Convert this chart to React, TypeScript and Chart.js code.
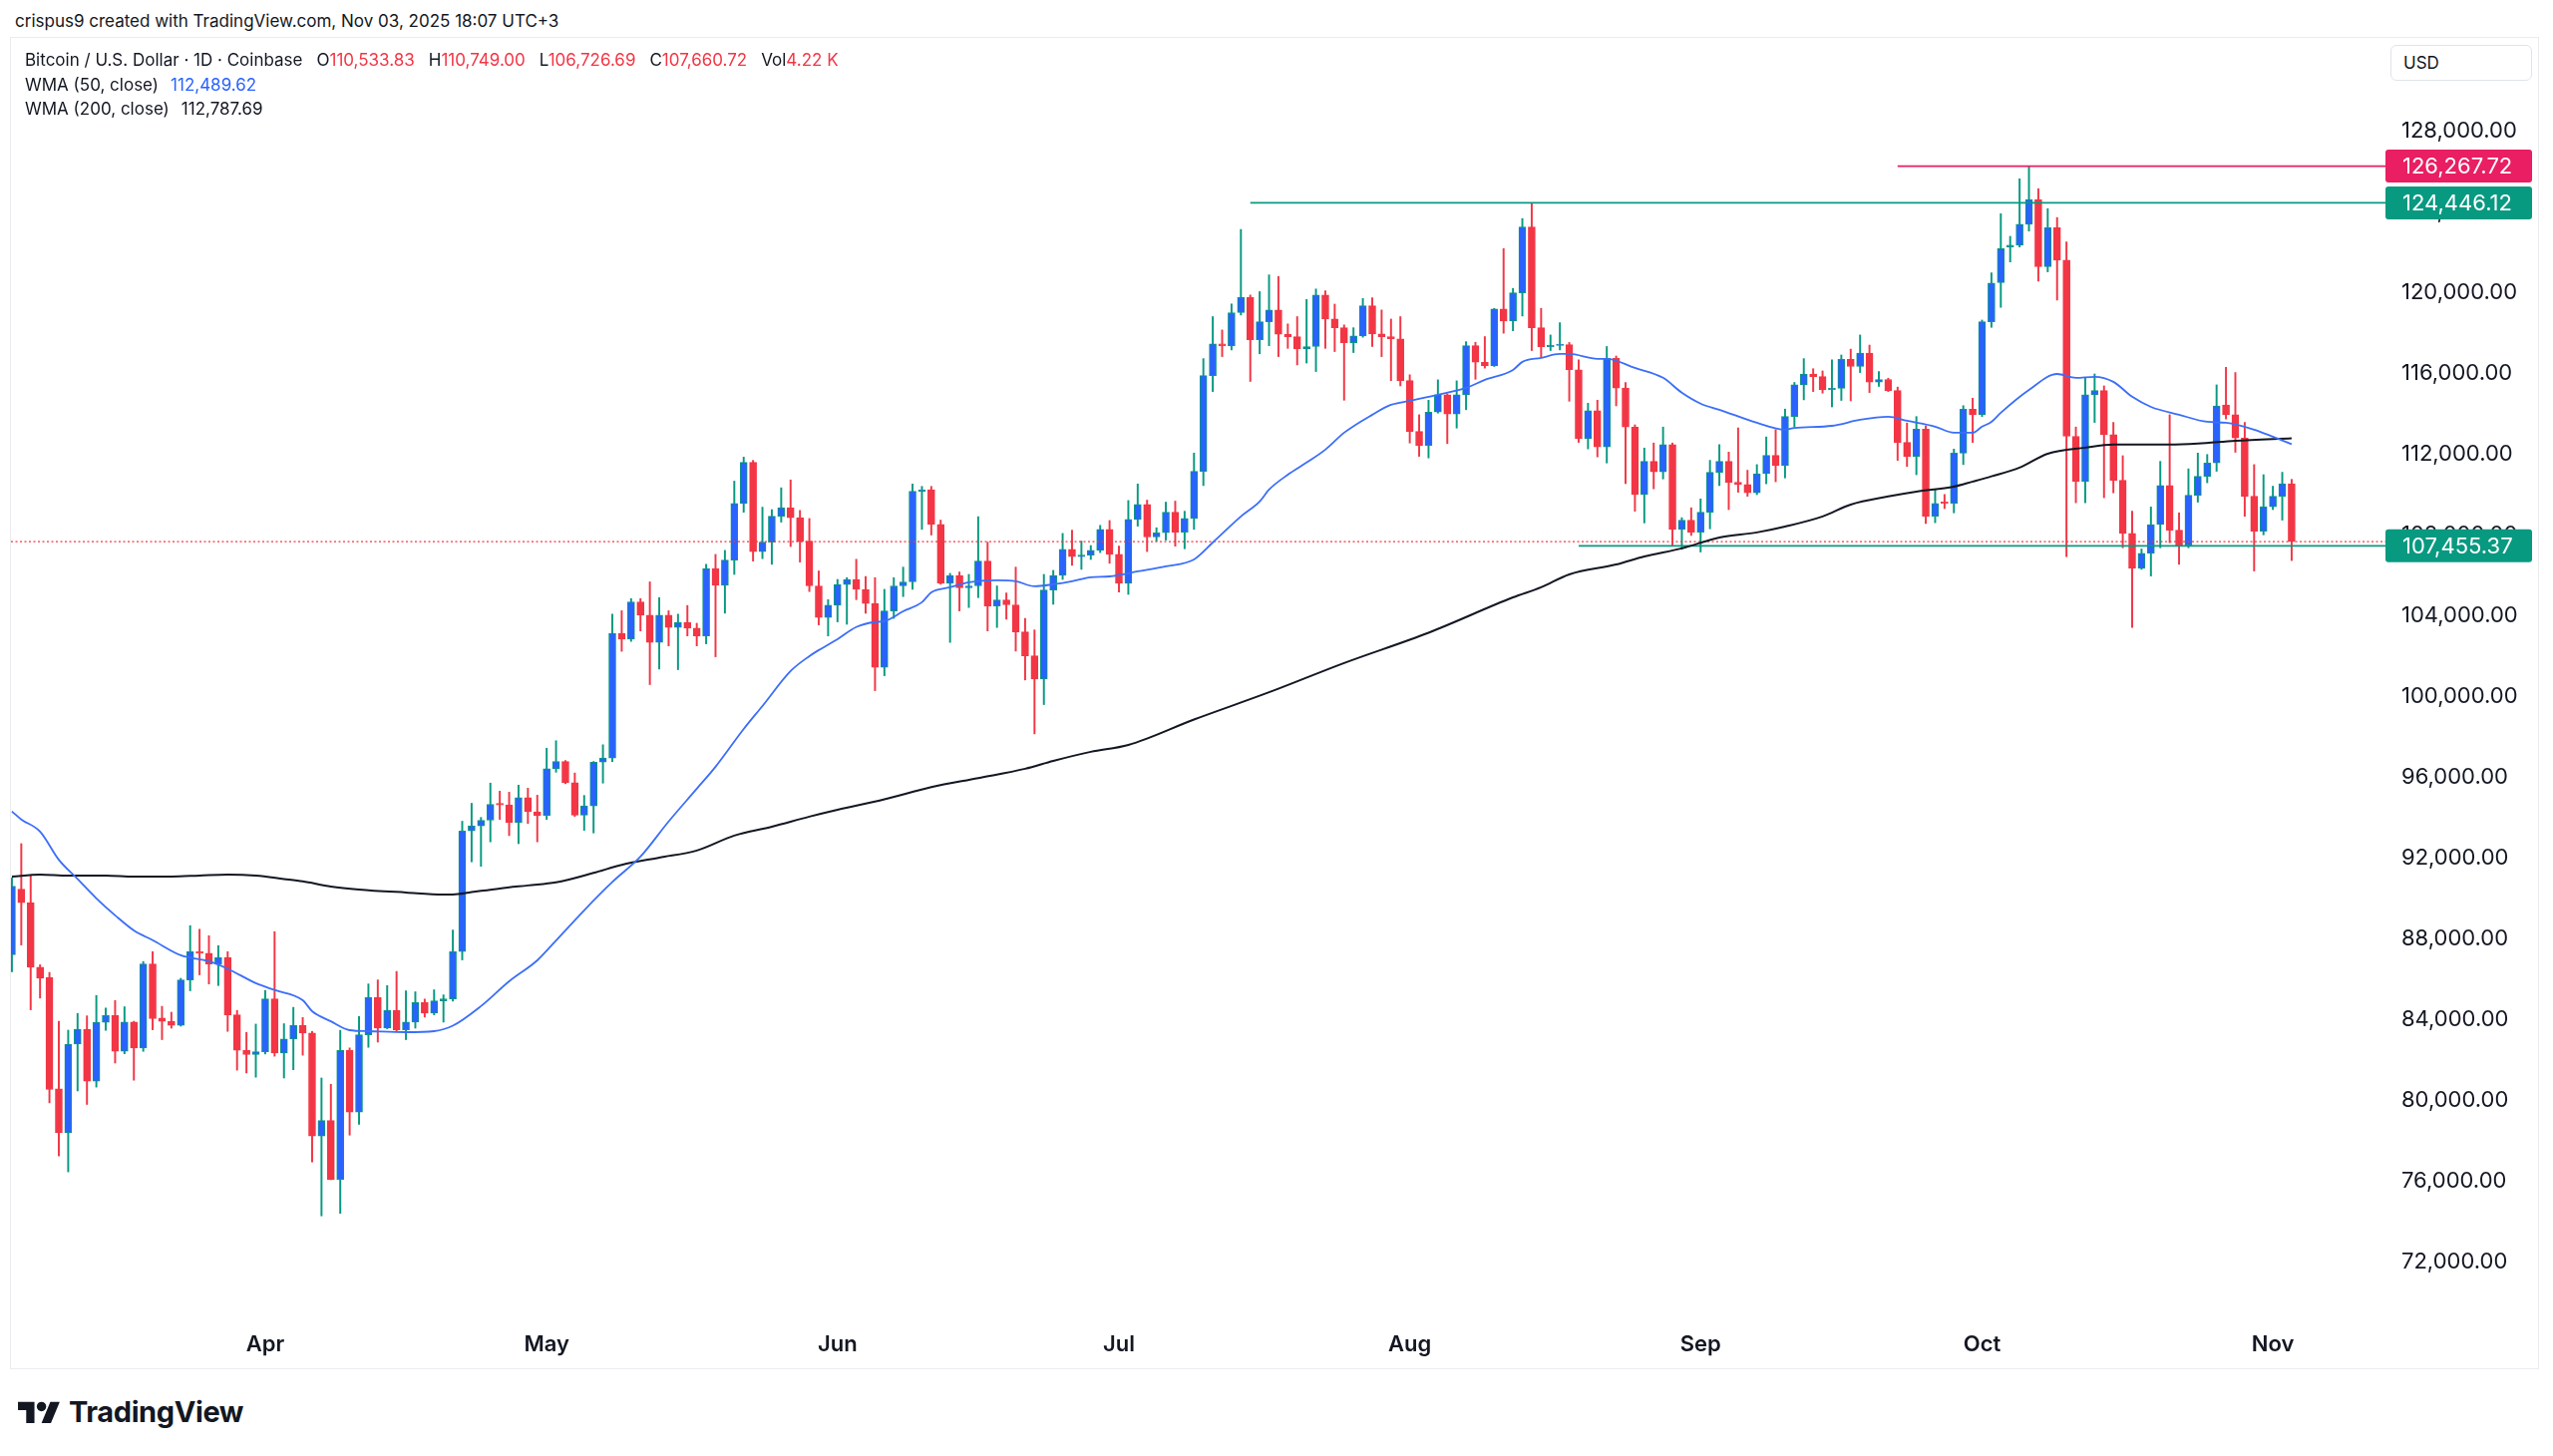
import React, { useEffect, useRef } from 'react';
import { Chart, registerables } from 'chart.js';

Chart.register(...registerables);

// ---------- data (daily candles, first candle = START_DATE) ----------
const START_DATE = '2025-03-05';

const open: number[] = [
  87200, 90450, 89780, 86580, 86070, 80550, 78370, 82770, 83510, 80930, 83850, 84190, 82410, 83860, 82580, 86740, 84060, 83900, 83700, 85950, 87350, 87270, 86740, 87060, 84220, 82460, 82250,
  82390, 85010, 82330, 83020, 83700, 83320, 78210, 78980, 76070, 82460, 79400, 83230, 85090, 83560, 84440, 83480, 83860, 84830, 84300, 84910, 85010, 87350, 93330, 93580, 93860, 94650, 94620, 93750, 94980, 94280,
  94100, 96410, 96770, 95720, 94110, 94570, 96740, 96940, 103120, 102830, 104680, 104020, 102670, 104020, 103410, 103660, 103380, 102990, 106330, 105500, 106750, 109550, 111590, 107170, 107640, 108920, 109340, 108850, 107690, 105470, 103900,
  104510, 105540, 105790, 105300, 104600, 101430, 104230, 105470, 105670, 110160, 110240, 108520, 105600, 105990, 105380, 105470, 106700, 104480, 104770, 104530, 103190, 102010, 100860, 105270, 105990, 107280, 106920, 107000, 107230, 108270,
  107030, 105600, 108760, 109500, 107890, 108100, 109120, 108130, 108810, 111150, 115890, 117460, 117360, 119010, 119770, 117660, 118560, 119140, 117940, 117820, 117210, 117330, 119880, 118690, 118260, 117520, 117850, 119350, 117950, 117820, 117710,
  115640, 113120, 112430, 114080, 114940, 113980, 114940, 117370, 116550, 116370, 119190, 118590, 119990, 123250, 118260, 117320, 117380, 117420, 116180, 112760, 114150, 112360, 116750, 115270, 113340, 109990, 111640, 111120, 112470, 108270, 108730,
  108130, 109120, 111100, 111640, 110600, 110500, 110080, 111030, 111940, 111440, 113860, 115430, 115970, 115840, 115180, 115260, 116700, 116340, 117000, 115570, 115700, 115150, 112580, 111890, 113240, 108920, 109620, 109560, 112050, 114230,
  113950, 118560, 120490, 122260, 122350, 123390, 124610, 121280, 123220, 121610, 112880, 110650, 114940, 115150, 112960, 110700, 108070, 106340, 107080, 108510, 110440, 108230, 107490, 109960, 110900, 111560, 114440, 113950, 112800, 109910, 108180,
  109390, 109910, 110533.83,
];

const high: number[] = [
  91000, 92700, 91100, 86700, 86320, 83900, 83460, 84290, 84170, 85180, 84550, 84930, 84620, 83900, 86860, 87350, 84640, 84350, 86030, 88640, 88460, 88140, 87650, 87350, 84440, 83350, 83760,
  85430, 88340, 83780, 84590, 84090, 83400, 81090, 80780, 83450, 82580, 84140, 85750, 85950, 85670, 86370, 85410, 85360, 85000, 85460, 85210, 88420, 93810, 94700, 94000, 95700, 95300, 95250, 95600, 95450, 95100,
  97430, 97800, 96820, 96200, 95090, 96770, 97600, 104070, 104240, 104840, 104840, 105670, 104890, 104240, 104070, 104500, 103620, 106540, 107030, 107230, 110660, 111850, 111690, 109370, 109250, 110330, 110720, 109210, 108810, 106210, 104790,
  105790, 105880, 106790, 105930, 105880, 105300, 105880, 106400, 110520, 110400, 110400, 108730, 106090, 106160, 106040, 108900, 107640, 105470, 105120, 106400, 103860, 103290, 106040, 106240, 108070, 108230, 107690, 107470, 108470, 108710,
  107440, 109700, 110520, 109720, 108350, 109620, 109670, 109170, 112050, 116730, 118810, 118150, 119440, 123130, 119880, 120050, 120880, 120800, 118450, 118810, 119660, 120180, 120090, 119430, 118400, 118260, 119710, 119740, 119140, 118690, 118810,
  115930, 113950, 114670, 115680, 114990, 115630, 117570, 117540, 117820, 119220, 122180, 120210, 123670, 124446.12, 119220, 117900, 118510, 117530, 116670, 114520, 114670, 117330, 116860, 115550, 113450, 112300, 112550, 113340, 112550, 108850, 109340,
  109780, 111690, 112470, 112100, 113300, 111200, 111480, 112850, 113210, 114230, 115550, 116730, 116230, 116120, 116670, 116910, 117200, 117900, 117400, 116090, 115760, 115320, 113540, 113860, 113400, 110240, 110000, 112250, 114400, 114770,
  118640, 120980, 123910, 122790, 125640, 126267.72, 125150, 124160, 123720, 122510, 113340, 115760, 115970, 115380, 113570, 111920, 109170, 107300, 109380, 111640, 113950, 109090, 111270, 112050, 111980, 115430, 116300, 116040, 113570, 111480, 110980,
  110410, 111100, 110749.0,
];

const low: number[] = [
  86350, 87680, 84470, 85050, 79860, 77230, 76440, 80450, 79780, 80640, 83450, 81830, 82290, 80980, 82410, 83480, 82990, 83560, 83660, 85410, 86200, 85750, 85670, 83400, 81480, 81340, 81130,
  82280, 82170, 81090, 81500, 82220, 76930, 74260, 76050, 74380, 78260, 78790, 82610, 82870, 83530, 83400, 82990, 83560, 84110, 84220, 83860, 84900, 86940, 91800, 91580, 92790, 93900, 93100, 92700, 93700, 92790,
  93900, 96240, 95670, 94050, 93360, 93230, 95700, 96770, 102230, 102720, 103240, 100580, 101350, 102500, 101320, 102990, 102500, 102600, 101960, 104120, 106040, 109120, 106700, 106820, 106540, 108630, 107420, 106650, 105190, 103540, 102990,
  103690, 103570, 104790, 104120, 100280, 101020, 103860, 104940, 105300, 108270, 107990, 105550, 102670, 104230, 104400, 104890, 103240, 103410, 103820, 102240, 100810, 98140, 99590, 104560, 105790, 106490, 106290, 106780, 107120, 106590,
  105170, 105050, 108430, 107170, 107690, 107740, 107440, 107310, 108270, 110440, 115100, 116830, 117160, 118890, 115600, 116970, 117370, 116830, 117240, 116420, 116510, 116090, 117240, 117080, 114670, 117030, 117790, 117330, 116830, 115640, 115380,
  112550, 111890, 111810, 114030, 112520, 113290, 114200, 115710, 116260, 116340, 117990, 118110, 118840, 117130, 116800, 117130, 117160, 114620, 112580, 112260, 111860, 111560, 114390, 110540, 109170, 108590, 110280, 110770, 107480, 107280, 107970,
  107150, 108300, 110440, 109250, 110110, 109910, 109990, 110530, 110630, 110820, 113340, 114690, 115100, 115020, 114340, 114660, 114640, 116040, 115050, 115350, 115100, 111690, 111390, 110980, 108560, 108600, 109300, 109090, 111480, 112580,
  113860, 118280, 119270, 121520, 122260, 123050, 120570, 121030, 119630, 106920, 109590, 109590, 113570, 109840, 110080, 107360, 103410, 106290, 105960, 107360, 107610, 106540, 107360, 109620, 110580, 111150, 113740, 112090, 108920, 106210, 108000,
  109250, 108730, 106726.69,
];

const close: number[] = [
  90600, 89780, 86580, 86030, 80520, 78370, 82770, 83510, 80930, 83850, 84190, 82410, 83860, 82580, 86740, 84030, 83900, 83700, 85950, 87350, 87270, 86740, 87060, 84220, 82460, 82250, 82390,
  85010, 82330, 83020, 83700, 83320, 78210, 78980, 76070, 82460, 79400, 83230, 85090, 83560, 84440, 83480, 83860, 84830, 84300, 84910, 85010, 87350, 93330, 93580, 93860, 94650, 94620, 93750, 94980, 94280, 94100,
  96410, 96770, 95720, 94110, 94570, 96740, 96940, 103120, 102830, 104680, 104020, 102670, 104020, 103410, 103660, 103380, 102990, 106330, 105500, 106750, 109550, 111590, 107170, 107640, 108920, 109340, 108850, 107690, 105470, 103900, 104510,
  105540, 105790, 105300, 104600, 101430, 104230, 105470, 105670, 110160, 110240, 108520, 105600, 105990, 105380, 105470, 106700, 104480, 104770, 104530, 103190, 102010, 100860, 105270, 105990, 107280, 106920, 107000, 107230, 108270, 107030,
  105600, 108760, 109500, 107890, 108100, 109120, 108130, 108810, 111150, 115890, 117460, 117360, 119010, 119770, 117660, 118560, 119140, 117940, 117820, 117210, 117330, 119880, 118690, 118260, 117520, 117850, 119350, 117950, 117820, 117710, 115640,
  113120, 112430, 114080, 114940, 113980, 114940, 117370, 116550, 116370, 119190, 118590, 119990, 123250, 118260, 117320, 117380, 117420, 116180, 112760, 114150, 112360, 116750, 115270, 113340, 109990, 111640, 111120, 112470, 108270, 108730, 108130,
  109120, 111100, 111640, 110600, 110500, 110080, 111030, 111940, 111440, 113860, 115430, 115970, 115840, 115180, 115260, 116700, 116340, 117000, 115570, 115700, 115150, 112580, 111890, 113240, 108920, 109550, 109560, 112050, 114230, 113950,
  118560, 120480, 122180, 122350, 123390, 124610, 121280, 123220, 121610, 112880, 110650, 114940, 115150, 112960, 110700, 108070, 106340, 107080, 108510, 110440, 108230, 107490, 109960, 110900, 111560, 114390, 113950, 112800, 109910, 108180, 109390,
  109910, 110530, 107660.72,
];

// WMA readings (day index from START_DATE -> value)
const wma50Day: number[] = [0, 1, 3, 5, 7, 9, 11, 13, 15, 18, 21, 23, 26, 28, 31, 32, 34, 36, 38, 42, 45, 47, 50, 53, 56, 58, 61, 64, 67, 70, 73, 75, 78, 80, 83, 85, 86, 88, 90, 92, 93, 95, 97, 98, 100, 102, 105, 107, 109, 111, 113, 115, 117, 120, 123, 126, 128, 131, 133, 134, 136, 138, 140, 142, 145, 147, 149, 152, 155, 157, 160, 161, 163, 165, 166, 169, 170, 173, 176, 178, 180, 182, 186, 189, 190, 194, 197, 200, 202, 205, 207, 209, 210, 211, 212, 215, 218, 220, 222, 224, 226, 228, 231, 234, 236, 239, 241, 243];
const wma50: number[] = [94300, 93900, 93300, 91900, 90950, 89990, 89150, 88400, 87920, 87170, 86870, 86500, 85790, 85450, 84940, 84400, 83900, 83460, 83410, 83360, 83410, 83680, 84650, 85880, 86920, 87900, 89400, 90800, 92060, 93800, 95420, 96510, 98380, 99520, 101250, 101990, 102290, 102830, 103430, 103680, 103720, 104210, 104660, 105150, 105400, 105650, 105750, 105700, 105450, 105550, 105700, 105900, 105940, 106190, 106440, 106780, 107620, 108910, 109650, 110240, 110980, 111580, 112220, 113060, 113950, 114440, 114640, 114940, 115280, 115680, 116170, 116570, 116770, 116960, 116960, 116720, 116720, 116270, 115780, 115040, 114500, 114200, 113550, 113210, 113300, 113400, 113700, 113850, 113650, 113360, 113060, 113060, 113360, 113600, 114050, 115180, 115970, 115780, 115830, 115580, 114840, 114340, 113950, 113600, 113550, 113210, 112860, 112489.62];

const wma200Day: number[] = [0, 3, 6, 10, 13, 17, 20, 23, 26, 29, 31, 34, 37, 42, 46, 47, 49, 52, 55, 58, 62, 65, 69, 73, 77, 81, 85, 88, 93, 98, 103, 108, 111, 115, 119, 126, 134, 142, 151, 160, 163, 166, 171, 174, 178, 182, 186, 189, 193, 196, 200, 203, 207, 209, 211, 214, 217, 221, 224, 230, 233, 237, 243];
const wma200: number[] = [91070, 91170, 91120, 91120, 91070, 91070, 91120, 91170, 91120, 90950, 90830, 90580, 90430, 90280, 90180, 90180, 90300, 90480, 90630, 90780, 91250, 91650, 92010, 92360, 93100, 93540, 94040, 94380, 94900, 95500, 95950, 96410, 96800, 97250, 97590, 98850, 100200, 101650, 103150, 104900, 105400, 106040, 106530, 106930, 107330, 107870, 108120, 108410, 108910, 109500, 109900, 110140, 110390, 110640, 110900, 111330, 112020, 112320, 112470, 112470, 112520, 112660, 112787.69];

// horizontal levels drawn on the chart
const levelValues: number[] = [126267.72, 124446.12, 107455.37];
const levelStartDates: string[] = ['2025-09-22', '2025-07-15', '2025-08-19'];

const monthLabels: string[] = ['Apr', 'May', 'Jun', 'Jul', 'Aug', 'Sep', 'Oct', 'Nov'];
const monthStartDates: string[] = ['2025-04-01', '2025-05-01', '2025-06-01', '2025-07-01', '2025-08-01', '2025-09-01', '2025-10-01', '2025-11-01'];

const priceTicks: number[] = [72000, 76000, 80000, 84000, 88000, 92000, 96000, 100000, 104000, 108000, 112000, 116000, 120000, 124000, 128000];

const volumeText = '4.22 K';

// ---------- styling ----------
const UP_FILL = '#2962FF';
const UP_LINE = '#089981';
const DOWN = '#F23645';
const LEVEL_RED = '#E91E63';
const LEVEL_GREEN = '#089981';
const TEXT = '#131722';
const WMA50_COLOR = '#3B6EF8';
const WMA200_COLOR = '#131722';
const FONT = 'Inter, "Noto Sans", Roboto, sans-serif';

const X_MIN = -0.1;
const X_MAX = 253.0;
const Y_MIN = 69280;
const Y_MAX = 132620;

const fmt2 = new Intl.NumberFormat('en-US', { minimumFractionDigits: 2, maximumFractionDigits: 2 });

const dayIndex = (iso: string) =>
  Math.round((Date.parse(iso + 'T00:00:00Z') - Date.parse(START_DATE + 'T00:00:00Z')) / 86400000);

const levelColors = [LEVEL_RED, LEVEL_GREEN, LEVEL_GREEN];

const priceBoxes = {
  id: 'priceBoxes',
  afterDraw(chart: any) {
    const { ctx, chartArea, scales } = chart;
    const y = scales.y;
    ctx.save();
    ctx.font = `22px ${FONT}`;
    ctx.textBaseline = 'middle';
    ctx.textAlign = 'left';
    levelValues.forEach((v, k) => {
      const py = y.getPixelForValue(v);
      const x0 = chartArea.right;
      const w = 147;
      const h = 33;
      ctx.fillStyle = levelColors[k];
      ctx.beginPath();
      ctx.roundRect(x0, py - h / 2, w, h, 3);
      ctx.fill();
      ctx.fillStyle = '#ffffff';
      ctx.fillText(fmt2.format(v), x0 + 17, py + 1);
    });
    ctx.restore();
  },
};

export default function App() {
  const ref = useRef<HTMLCanvasElement | null>(null);

  useEffect(() => {
    const canvas = ref.current;
    if (!canvas) return;
    const idx = open.map((_, i) => i);
    const isUp = idx.map((i) => close[i] >= open[i]);
    const monthIdx = monthStartDates.map(dayIndex);
    const last = close.length - 1;

    const lineBase = { pointRadius: 0, pointHoverRadius: 0, fill: false };

    const datasets: any[] = [
      {
        ...lineBase,
        type: 'line',
        data: wma50Day.map((d, i) => ({ x: d, y: wma50[i] })),
        borderColor: WMA50_COLOR,
        borderWidth: 1.8,
        cubicInterpolationMode: 'monotone',
        order: 0,
      },
      {
        ...lineBase,
        type: 'line',
        data: wma200Day.map((d, i) => ({ x: d, y: wma200[i] })),
        borderColor: WMA200_COLOR,
        borderWidth: 2,
        cubicInterpolationMode: 'monotone',
        order: 0,
      },
      ...levelValues.map((v, k) => ({
        ...lineBase,
        type: 'line',
        data: [
          { x: dayIndex(levelStartDates[k]), y: v },
          { x: X_MAX, y: v },
        ],
        borderColor: levelColors[k],
        borderWidth: 1.7,
        order: 1,
      })),
      {
        ...lineBase,
        type: 'line',
        data: [
          { x: X_MIN, y: close[last] },
          { x: X_MAX, y: close[last] },
        ],
        borderColor: DOWN,
        borderWidth: 1.2,
        borderDash: [2, 2.5],
        order: 1,
      },
      {
        type: 'bar',
        data: idx.map((i) => ({ x: i, y: [open[i], close[i]] })),
        backgroundColor: idx.map((i) => (isUp[i] ? UP_FILL : DOWN)),
        borderColor: idx.map((i) => (isUp[i] ? UP_LINE : DOWN)),
        borderWidth: 1,
        borderSkipped: false,
        barThickness: 7,
        minBarLength: 1.5,
        grouped: false,
        order: 2,
      },
      {
        type: 'bar',
        data: idx.map((i) => ({ x: i, y: [low[i], high[i]] })),
        backgroundColor: idx.map((i) => (isUp[i] ? UP_LINE : DOWN)),
        borderWidth: 0,
        barThickness: 1.3,
        grouped: false,
        order: 3,
      },
    ];

    const chart = new Chart(canvas, {
      type: 'bar',
      data: { datasets },
      options: {
        animation: false,
        responsive: false,
        devicePixelRatio: 1,
        events: [],
        layout: { padding: 0 },
        plugins: { legend: { display: false }, tooltip: { enabled: false } },
        scales: {
          x: {
            type: 'linear',
            min: X_MIN,
            max: X_MAX,
            offset: false,
            bounds: 'data',
            grid: { display: false, drawTicks: false },
            border: { display: false },
            ticks: {
              autoSkip: false,
              maxRotation: 0,
              padding: 15,
              color: TEXT,
              font: { family: FONT, size: 22, weight: '600' },
              callback: (v: any) => {
                const k = monthIdx.indexOf(Number(v));
                return k >= 0 ? monthLabels[k] : '';
              },
            },
            afterBuildTicks: (s: any) => {
              s.ticks = monthIdx.map((v) => ({ value: v }));
            },
            afterFit: (s: any) => {
              s.height = 52;
              s.paddingLeft = 0;
              s.paddingRight = 0;
            },
          },
          y: {
            type: 'linear',
            position: 'right',
            min: Y_MIN,
            max: Y_MAX,
            bounds: 'data',
            beginAtZero: false,
            grid: { display: false, drawTicks: false },
            border: { display: false },
            ticks: {
              autoSkip: false,
              padding: 16,
              color: TEXT,
              font: { family: FONT, size: 22 },
              callback: (v: any) => fmt2.format(Number(v)),
            },
            afterBuildTicks: (s: any) => {
              s.ticks = priceTicks.map((v) => ({ value: v }));
            },
            afterFit: (s: any) => {
              s.width = 153;
              s.paddingTop = 0;
              s.paddingBottom = 0;
            },
          },
        },
      } as any,
      plugins: [priceBoxes as any],
    });
    return () => chart.destroy();
  }, []);

  const last = close.length - 1;
  const txt: React.CSSProperties = {
    position: 'absolute',
    fontFamily: FONT,
    fontSize: 17,
    lineHeight: '20px',
    color: TEXT,
    whiteSpace: 'nowrap',
  };
  const gap = { marginLeft: 14 };
  const red = { color: DOWN };

  return (
    <div
      style={{
        position: 'absolute',
        left: 0,
        top: 0,
        width: 2560,
        height: 1460,
        background: '#ffffff',
        overflow: 'hidden',
      }}
    >
      <div style={{ ...txt, left: 15, top: 11 }}>
        crispus9 created with TradingView.com, Nov 03, 2025 18:07 UTC+3
      </div>

      <div
        style={{
          position: 'absolute',
          left: 10,
          top: 37,
          width: 2536,
          height: 1336,
          border: '1px solid #e9ebef',
          boxSizing: 'border-box',
        }}
      />
      <canvas
        ref={ref}
        width={2534}
        height={1334}
        style={{ position: 'absolute', left: 11, top: 38, width: 2534, height: 1334 }}
      />

      <div style={{ ...txt, left: 25, top: 50 }}>
        Bitcoin / U.S. Dollar · 1D · Coinbase
        <span style={gap}>O<span style={red}>{fmt2.format(open[last])}</span></span>
        <span style={gap}>H<span style={red}>{fmt2.format(high[last])}</span></span>
        <span style={gap}>L<span style={red}>{fmt2.format(low[last])}</span></span>
        <span style={gap}>C<span style={red}>{fmt2.format(close[last])}</span></span>
        <span style={gap}>Vol<span style={red}>{volumeText}</span></span>
      </div>
      <div style={{ ...txt, left: 25, top: 75 }}>
        WMA (50, close)
        <span style={{ marginLeft: 12, color: UP_FILL }}>{fmt2.format(wma50[wma50.length - 1])}</span>
      </div>
      <div style={{ ...txt, left: 25, top: 99 }}>
        WMA (200, close)
        <span style={{ marginLeft: 12 }}>{fmt2.format(wma200[wma200.length - 1])}</span>
      </div>

      <div
        style={{
          position: 'absolute',
          left: 2397,
          top: 45,
          width: 142,
          height: 36,
          border: '1px solid #e0e3eb',
          borderRadius: 6,
          boxSizing: 'border-box',
          background: '#ffffff',
          fontFamily: FONT,
          fontSize: 17,
          lineHeight: '34px',
          color: TEXT,
          paddingLeft: 12,
        }}
      >
        USD
      </div>

      <svg
        style={{ position: 'absolute', left: 18, top: 1401 }}
        width={42.5}
        height={33}
        viewBox="0 0 36 28"
      >
        <path d="M14 22H7V11H0V4h14v18zM28 22h-8l7.5-18h8L28 22z" fill={TEXT} />
        <circle cx="20" cy="8" r="4" fill={TEXT} />
      </svg>
      <div
        style={{
          position: 'absolute',
          left: 69,
          top: 1402,
          fontFamily: FONT,
          fontSize: 29,
          fontWeight: 700,
          lineHeight: '28px',
          letterSpacing: -0.4,
          color: TEXT,
          whiteSpace: 'nowrap',
        }}
      >
        TradingView
      </div>
    </div>
  );
}
